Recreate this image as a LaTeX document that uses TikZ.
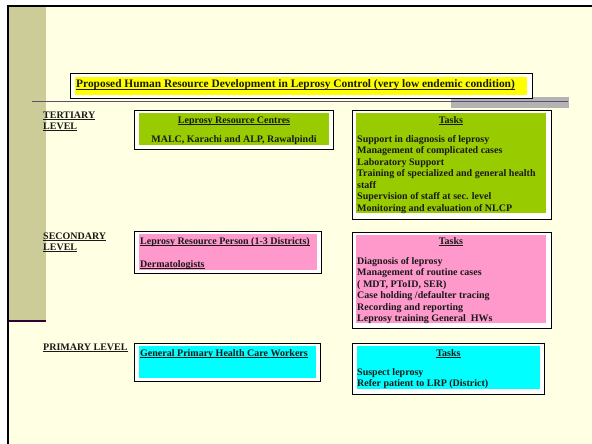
\documentclass[tikz,border=0pt]{standalone}
\usepackage{fontspec}
\setmainfont{Liberation Serif}
\usetikzlibrary{shadows}
\definecolor{bgc}{HTML}{FFFFE3}
\definecolor{tan}{HTML}{CCCC99}
\definecolor{lgreen}{HTML}{99CC00}
\definecolor{lpink}{HTML}{FF99CC}
\definecolor{lcyan}{HTML}{00FFFF}
\definecolor{lyel}{HTML}{FFFF00}
\definecolor{darkpur}{HTML}{330033}
\definecolor{mauve}{HTML}{6A4A6A}
\definecolor{gbar}{HTML}{B3B3B3}
\newcommand{\ulx}[1]{\underline{\smash{#1}}}
\newcommand{\firststrut}{\rule{0pt}{7.5pt}}
\begin{document}
\begin{tikzpicture}[x=1pt,y=-1pt,
  outerbox/.style={draw=black, line width=0.8pt, fill=white, anchor=north west, inner sep=0pt,
     drop shadow={shadow xshift=1pt, shadow yshift=-1pt, fill=gray!70, opacity=1}},
  innerbox/.style={anchor=north west, inner sep=0pt, draw=none},
  txt/.style={font=\fontsize{10}{11.5}\selectfont\bfseries, inner sep=0pt, text=black!90},
  list/.style={txt, align=left, anchor=north west}
]
\useasboundingbox (0,0) rectangle (592,444);
% background
\fill[white] (0,0) rectangle (592,444);
\fill[bgc] (8,6) rectangle (592,444);
\fill[tan] (9.3,7) rectangle (46,320);
\draw[darkpur, line width=2pt] (9,321) -- (46,321);
\draw[black, line width=2pt] (8.3,444) -- (8.3,5.8) -- (592,5.8);
% horizontal rule with gray bar
\fill[gbar] (451,97) rectangle (569,108);
\draw[mauve, line width=1.4pt] (32,101.5) -- (568,101.5);

% title
\node[outerbox, minimum width=462pt, minimum height=25pt] (titO) at (70,73) {};
\node[innerbox, fill=lyel, minimum width=452pt, minimum height=18pt] (tit) at (75,77) {};
\node[txt, font=\fontsize{11.4}{13}\selectfont\bfseries, anchor=base west] (titT) at (76,88) {\ulx{Proposed Human Resource Development in Leprosy Control (very low endemic condition)}};

% level labels
\node[txt, anchor=base west] (ter1) at (43,118) {\ulx{TERTIARY}};
\node[txt, anchor=base west] (ter2) at (43,129) {\ulx{LEVEL}};
\node[txt, anchor=base west] (sec1) at (43,239) {\ulx{SECONDARY}};
\node[txt, anchor=base west] (sec2) at (43,250) {\ulx{LEVEL}};
\node[txt, anchor=base west] (pri) at (43,350) {\ulx{PRIMARY LEVEL}};

% tertiary boxes
\node[outerbox, minimum width=199pt, minimum height=39pt] (lrcO) at (134,110) {};
\node[innerbox, fill=lgreen, minimum width=190pt, minimum height=32pt] (lrc) at (139,113) {};
\node[txt, anchor=base] (lrcH) at (234,123) {\ulx{Leprosy Resource Centres}};
\node[txt, anchor=base] (lrcT) at (234,142) {MALC, Karachi and ALP, Rawalpindi};

\node[outerbox, minimum width=199pt, minimum height=109pt] (t3O) at (352,110) {};
\node[innerbox, fill=lgreen, minimum width=190pt, minimum height=100pt] (t3) at (356,113) {};
\node[txt, anchor=base] (t3H) at (451,123) {\ulx{Tasks}};
\node[list] (t3L) at (357,134.5) {\firststrut Support in diagnosis of leprosy\\Management of complicated cases\\Laboratory Support\\Training of specialized and general health\\staff\\Supervision of staff at sec. level\\Monitoring and evaluation of NLCP};

% secondary boxes
\node[outerbox, minimum width=187pt, minimum height=42pt] (lrpO) at (134,231) {};
\node[innerbox, fill=lpink, minimum width=178pt, minimum height=36pt] (lrp) at (139,234) {};
\node[txt, anchor=base west] (lrpH) at (140,244) {\ulx{Leprosy Resource Person (1-3 Districts)}};
\node[txt, anchor=base west] (lrpD) at (140,267) {\ulx{Dermatologists}};

\node[outerbox, minimum width=199pt, minimum height=96pt] (t2O) at (352,232) {};
\node[innerbox, fill=lpink, minimum width=190pt, minimum height=88pt] (t2) at (356,235) {};
\node[txt, anchor=base] (t2H) at (451,244) {\ulx{Tasks}};
\node[list] (t2L) at (357,256.5) {\firststrut Diagnosis of leprosy\\Management of routine cases\\( MDT, PToID, SER)\\Case holding /defaulter tracing\\Recording and reporting\\Leprosy training General~ HWs};

% primary boxes
\node[outerbox, minimum width=186pt, minimum height=38pt] (gpO) at (134,343) {};
\node[innerbox, fill=lcyan, minimum width=177pt, minimum height=32pt] (gp) at (139,346) {};
\node[txt, anchor=base west] (gpH) at (140,356) {\ulx{General Primary Health Care Workers}};

\node[outerbox, minimum width=192pt, minimum height=51pt] (t1O) at (352,343) {};
\node[innerbox, fill=lcyan, minimum width=183pt, minimum height=43pt] (t1) at (357,346) {};
\node[txt, anchor=base] (t1H) at (448.5,356) {\ulx{Tasks}};
\node[list] (t1L) at (357,367.5) {\firststrut Suspect leprosy\\Refer patient to LRP (District)};
\end{tikzpicture}
\end{document}
